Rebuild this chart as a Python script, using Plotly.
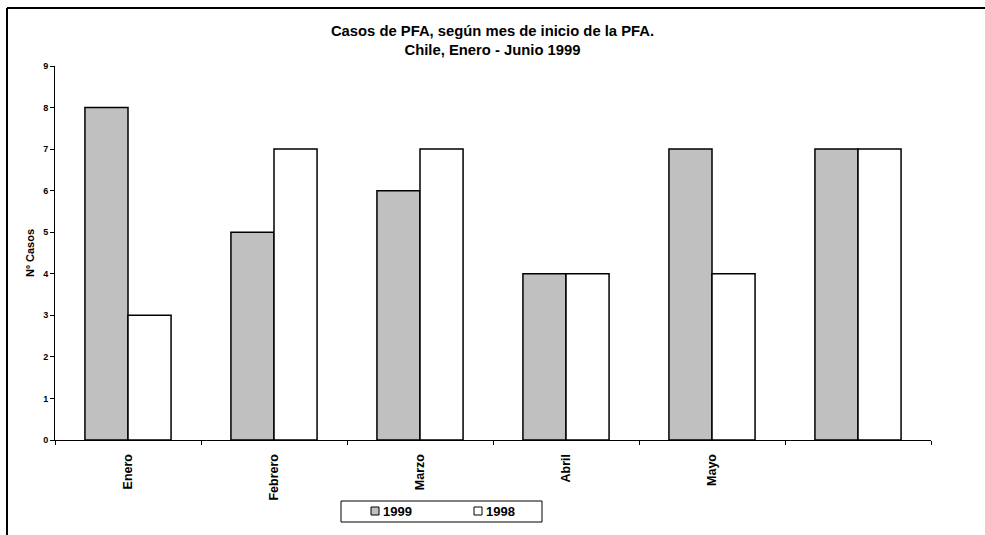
import plotly.graph_objects as go

# Monthly AFP (PFA) case counts, Chile
months = ["Enero", "Febrero", "Marzo", "Abril", "Mayo", "Junio"]
tick_labels = ["Enero", "Febrero", "Marzo", "Abril", "Mayo", ""]
series_names = ["1999", "1998"]
cases_1999 = [8, 5, 6, 4, 7, 7]
cases_1998 = [3, 7, 7, 4, 4, 7]
y_ticks = [0, 1, 2, 3, 4, 5, 6, 7, 8, 9]

FONT = "Arial, Liberation Sans, sans-serif"
FILLS = ["#c0c0c0", "#ffffff"]

fig = go.Figure()
for name, values, fill in zip(series_names, [cases_1999, cases_1998], FILLS):
    fig.add_trace(go.Bar(
        x=months, y=values, name=name, showlegend=False,
        marker=dict(color=fill, line=dict(color="#000000", width=1.5)),
    ))

W, H = 985, 535
ml, mr, mt, mb = 55, 54, 66, 95
pw, ph = W - ml - mr, H - mt - mb

def px(x):
    return (x - ml) / pw

def py(y):
    return (H - mb - y) / ph

# outer chart frame (top and left edges)
shapes = [
    dict(type="line", xref="paper", yref="paper",
         x0=px(7), x1=px(990), y0=py(8), y1=py(8),
         line=dict(color="#000000", width=2)),
    dict(type="line", xref="paper", yref="paper",
         x0=px(7), x1=px(7), y0=py(8), y1=py(540),
         line=dict(color="#000000", width=2)),
    # legend box
    dict(type="rect", xref="paper", yref="paper",
         x0=px(341), x1=px(542), y0=py(501), y1=py(522),
         line=dict(color="#000000", width=1), fillcolor="white"),
]
annotations = []
legend_x = [371, 474]
for lx, name, fill in zip(legend_x, series_names, FILLS):
    shapes.append(dict(type="rect", xref="paper", yref="paper",
                       x0=px(lx), x1=px(lx + 8), y0=py(507), y1=py(515),
                       line=dict(color="#000000", width=1), fillcolor=fill))
    annotations.append(dict(xref="paper", yref="paper", x=px(lx + 10), y=py(511.5),
                            xanchor="left", yanchor="middle", showarrow=False,
                            text="<b>" + name + "</b>",
                            font=dict(size=13, family=FONT, color="#000000")))

fig.update_layout(
    width=W, height=H,
    margin=dict(l=ml, r=mr, t=mt, b=mb),
    paper_bgcolor="white", plot_bgcolor="white",
    barmode="group", bargap=0.41, bargroupgap=0,
    font=dict(family=FONT, color="#000000"),
    title=dict(
        text="<b>Casos de PFA, según mes de inicio de la PFA.<br>Chile, Enero - Junio 1999</b>",
        x=0.5, xanchor="center", y=1 - 36 / H, yanchor="top",
        font=dict(size=14.8, family=FONT),
    ),
    xaxis=dict(
        type="category", automargin=False,
        tickmode="array", tickvals=months, ticktext=tick_labels,
        tickson="boundaries", ticks="outside", ticklen=4, tickcolor="#000000",
        showline=True, linecolor="#000000", linewidth=1,
        showgrid=False, zeroline=False,
        tickangle=-90, tickfont=dict(size=12.5, family=FONT, weight="bold"),
        ticklabelstandoff=8,
    ),
    yaxis=dict(
        range=[0, 9], tickvals=y_ticks, automargin=False,
        ticks="outside", ticklen=4, tickcolor="#000000",
        showline=True, linecolor="#000000", linewidth=1,
        showgrid=False, zeroline=False,
        tickfont=dict(size=9, family=FONT, weight="bold"),
        title=dict(text="<b>Nº Casos</b>", font=dict(size=11, family=FONT), standoff=6),
    ),
    showlegend=False,
    shapes=shapes,
    annotations=annotations,
)

fig.write_html("out.html")
